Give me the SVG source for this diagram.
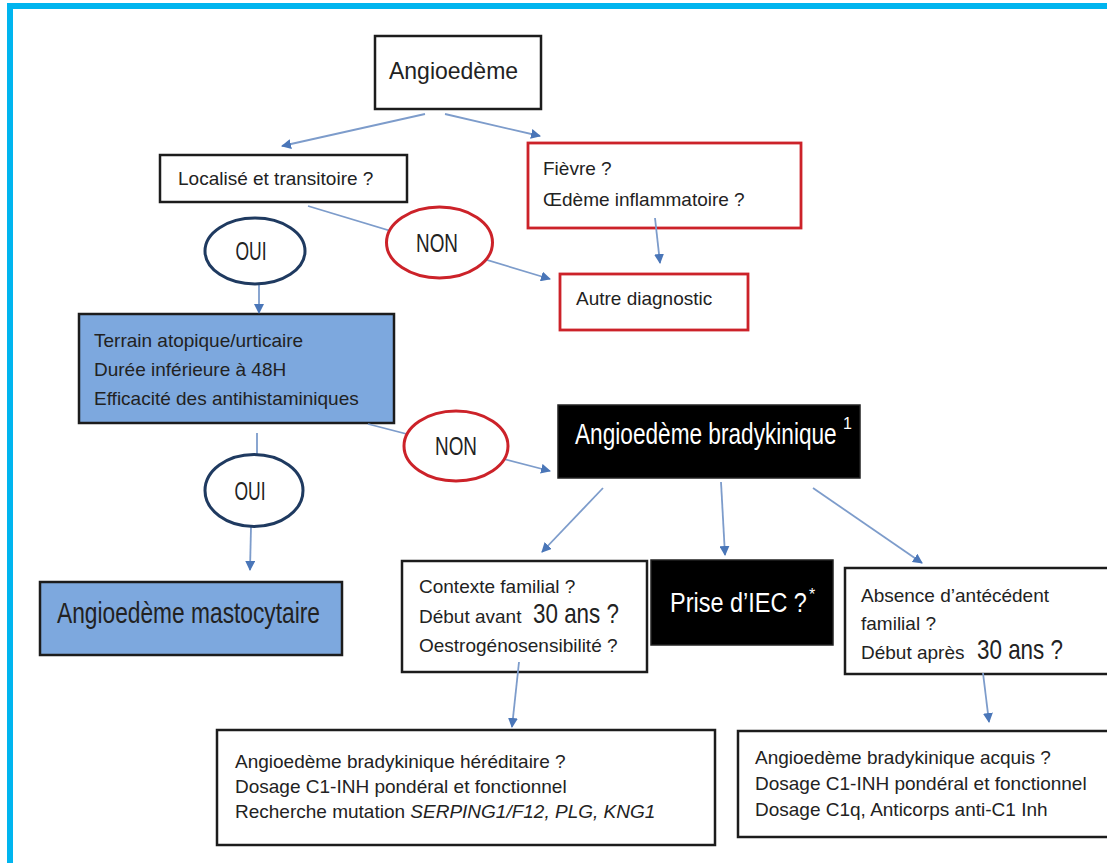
<svg xmlns="http://www.w3.org/2000/svg" width="1107" height="863" viewBox="0 0 1107 863">
  <defs>
    <marker id="arrow" viewBox="0 0 10 10" refX="9" refY="5" markerWidth="10" markerHeight="10" markerUnits="userSpaceOnUse" orient="auto">
      <path d="M0,0 L10,5 L0,10 z" fill="#4A76B8"/>
    </marker>
    <style>
      .box{fill:#fff;stroke:#1c1c1c;stroke-width:2.5}
      .red{fill:#fff;stroke:#cc2229;stroke-width:2.8}
      .blue{fill:#7DA8DE;stroke:#1c1c1c;stroke-width:2.5}
      .dark{fill:#000;stroke:#222;stroke-width:1.5}
      .yes{fill:#fff;stroke:#1f3a60;stroke-width:3}
      .no{fill:#fff;stroke:#cc2229;stroke-width:3}
      .link{fill:none;stroke:#7D9CCB;stroke-width:1.8}
      .arr{marker-end:url(#arrow)}
      text{font-family:"Liberation Sans",Arial,sans-serif;fill:#222;font-size:19px}
      .big{font-size:29px}
      .mid{font-size:25px}
      .num{font-size:27px}
      .sup{font-size:16px}
      .inv{fill:#fff}
      .it{font-style:italic}
    </style>
  </defs>

  <rect x="0" y="0" width="1107" height="863" fill="#fff"/>

  <!-- frame -->
  <g id="frame" fill="#00B5EF">
    <rect x="7" y="3" width="6" height="860"/>
    <rect x="7" y="3" width="1100" height="6"/>
  </g>

  <!-- boxes (condensed titles use a horizontal scale) -->
  <g id="n-angioedeme">
    <rect class="box" x="375" y="36" width="166" height="73"/>
    <text transform="translate(389 79) scale(0.958 1)" style="font-size:24px">Angioedème</text>
  </g>
  <g id="n-localise">
    <rect class="box" x="160" y="155" width="247" height="47"/>
    <text x="178" y="185">Localisé et transitoire ?</text>
  </g>
  <g id="n-fievre">
    <rect class="red" x="528" y="143" width="273" height="85"/>
    <text x="543" y="175">Fièvre ?</text>
    <text x="543" y="206">Œdème inflammatoire ?</text>
  </g>
  <g id="n-autre">
    <rect class="red" x="560" y="274" width="188" height="56"/>
    <text x="576" y="305">Autre diagnostic</text>
  </g>
  <g id="n-terrain">
    <rect class="blue" x="79" y="314" width="315" height="109"/>
    <text x="94" y="347">Terrain atopique/urticaire</text>
    <text x="94" y="376">Durée inférieure à 48H</text>
    <text x="94" y="405">Efficacité des antihistaminiques</text>
  </g>
  <g id="n-mastocytaire">
    <rect class="blue" x="40" y="582" width="302" height="73"/>
    <text class="big" transform="translate(57 623) scale(0.785 1)">Angioedème mastocytaire</text>
  </g>
  <g id="n-bradykinique">
    <rect class="dark" x="558" y="405" width="302" height="73"/>
    <text class="big inv" transform="translate(575 444) scale(0.781 1)">Angioedème bradykinique</text>
    <text class="sup inv" x="843" y="429">1</text>
  </g>
  <g id="n-contexte">
    <rect class="box" x="402" y="561" width="245" height="111"/>
    <text x="419" y="593">Contexte familial ?</text>
    <text x="419" y="623">Début avant</text>
    <text class="num" transform="translate(533 623) scale(0.83 1)">30 ans ?</text>
    <text x="419" y="652">Oestrogénosensibilité ?</text>
  </g>
  <g id="n-iec">
    <rect class="dark" x="651" y="560" width="182" height="85"/>
    <text class="inv" transform="translate(670 612) scale(0.838 1)" style="font-size:28px">Prise d’IEC ?</text>
    <text class="sup inv" x="809" y="600">*</text>
  </g>
  <g id="n-absence">
    <rect class="box" x="845" y="568" width="265" height="106"/>
    <text x="861" y="602">Absence d’antécédent</text>
    <text x="861" y="630">familial ?</text>
    <text x="861" y="659">Début après</text>
    <text class="num" transform="translate(977 659) scale(0.83 1)">30 ans ?</text>
  </g>
  <g id="n-hereditaire">
    <rect class="box" x="217" y="730" width="498" height="115"/>
    <text x="235" y="768">Angioedème bradykinique héréditaire ?</text>
    <text x="235" y="793">Dosage C1-INH pondéral et fonctionnel</text>
    <text x="235" y="818">Recherche mutation <tspan class="it">SERPING1/F12, PLG, KNG1</tspan></text>
  </g>
  <g id="n-acquis">
    <rect class="box" x="738" y="731" width="372" height="106"/>
    <text x="755" y="764">Angioedème bradykinique acquis ?</text>
    <text x="755" y="790">Dosage C1-INH pondéral et fonctionnel</text>
    <text x="755" y="816">Dosage C1q, Anticorps anti-C1 Inh</text>
  </g>

  <!-- connectors -->
  <g id="connectors">
    <path class="link arr" d="M425,114 L282,146"/>
    <path class="link arr" d="M445,114 L540,136"/>
    <path class="link arr" d="M308,206 L550,279"/>
    <path class="link arr" d="M655,218 L660,263"/>
    <path class="link arr" d="M259,285 L259,313"/>
    <path class="link" d="M257,433 L257,454"/>
    <path class="link arr" d="M251,527 L250,570"/>
    <path class="link arr" d="M368,424 L550,471"/>
    <path class="link arr" d="M603,488 L542,552"/>
    <path class="link arr" d="M721,482 L725,555"/>
    <path class="link arr" d="M813,488 L922,563"/>
    <path class="link arr" d="M519,662 L512,727"/>
    <path class="link arr" d="M983,673 L989,722"/>
  </g>

  <!-- decision ellipses -->
  <g id="n-oui1">
    <ellipse class="yes" cx="255" cy="251" rx="50" ry="33"/>
    <text class="mid" transform="translate(251 260) scale(0.70 1)" text-anchor="middle">OUI</text>
  </g>
  <g id="n-non1">
    <ellipse class="no" cx="439.5" cy="242.5" rx="53" ry="35.5"/>
    <text class="mid" transform="translate(437 252) scale(0.756 1)" text-anchor="middle">NON</text>
  </g>
  <g id="n-non2">
    <ellipse class="no" cx="456" cy="446" rx="52" ry="35"/>
    <text class="mid" transform="translate(456 455) scale(0.756 1)" text-anchor="middle">NON</text>
  </g>
  <g id="n-oui2">
    <ellipse class="yes" cx="254" cy="490.5" rx="49" ry="36"/>
    <text class="mid" transform="translate(250 500) scale(0.70 1)" text-anchor="middle">OUI</text>
  </g>
</svg>
